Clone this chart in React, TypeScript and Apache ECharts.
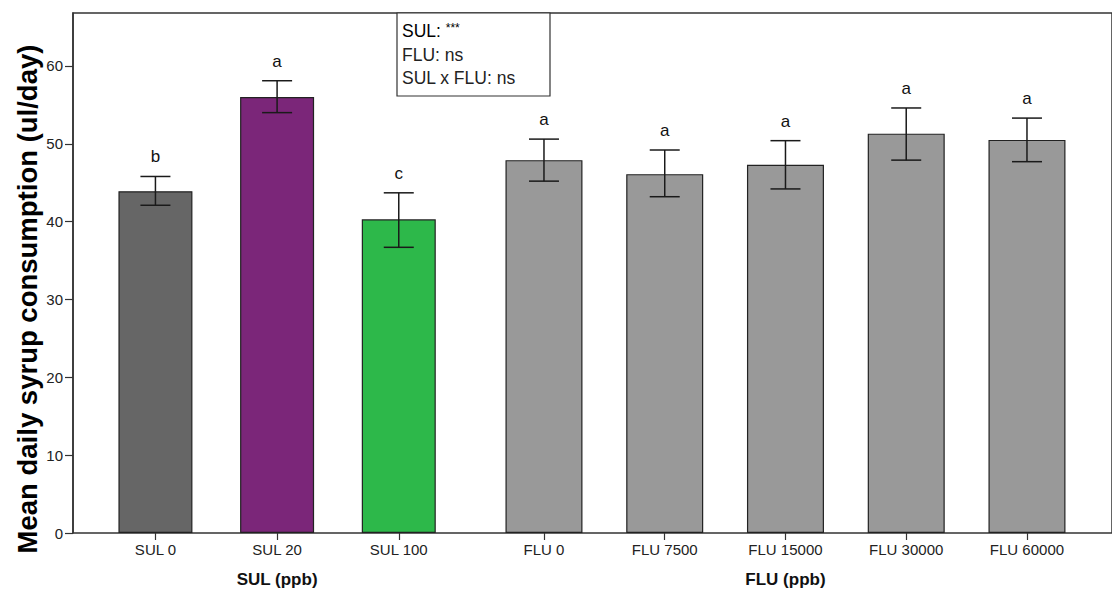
import React, { useEffect, useRef } from "react";
import * as echarts from "echarts";

const sulCategories = ["SUL 0", "SUL 20", "SUL 100"];
const sulMeans = [43.9, 56.0, 40.3];
const sulLow = [42.1, 54.0, 36.7];
const sulHigh = [45.8, 58.1, 43.7];
const sulLetters = ["b", "a", "c"];
const sulColors = ["#666666", "#7b2679", "#2db84a"];

const fluCategories = ["FLU 0", "FLU 7500", "FLU 15000", "FLU 30000", "FLU 60000"];
const fluMeans = [47.9, 46.1, 47.3, 51.3, 50.5];
const fluLow = [45.2, 43.2, 44.2, 47.9, 47.7];
const fluHigh = [50.6, 49.2, 50.4, 54.6, 53.3];
const fluLetters = ["a", "a", "a", "a", "a"];
const fluColor = "#999999";

const yTicks = [0, 10, 20, 30, 40, 50, 60];
const yMax = 66.8;

const statsLines = ["SUL: ", "FLU: ns", "SUL x FLU: ns"];

const FONT = "'Liberation Sans', Arial, sans-serif";

function errorSeries(axisIdx: number, low: number[], high: number[], letters: string[]) {
  return {
    type: "custom",
    xAxisIndex: axisIdx,
    yAxisIndex: axisIdx,
    z: 5,
    data: low.map((l, i) => [i, l, high[i], letters[i]]),
    renderItem: (params: any, api: any) => {
      const i = api.value(0);
      const lo = api.coord([i, api.value(1)]);
      const hi = api.coord([i, api.value(2)]);
      const hw = 15;
      const st = { stroke: "#1a1a1a", lineWidth: 1.5 };
      return {
        type: "group",
        children: [
          { type: "line", shape: { x1: lo[0], y1: lo[1], x2: hi[0], y2: hi[1] }, style: st },
          { type: "line", shape: { x1: lo[0] - hw, y1: lo[1], x2: lo[0] + hw, y2: lo[1] }, style: st },
          { type: "line", shape: { x1: hi[0] - hw, y1: hi[1], x2: hi[0] + hw, y2: hi[1] }, style: st },
          {
            type: "text",
            x: hi[0],
            y: hi[1] - 11,
            style: {
              text: letters[i],
              fill: "#111",
              font: `17px ${FONT}`,
              align: "center",
              verticalAlign: "bottom",
              textAlign: "center",
              textVerticalAlign: "bottom",
            },
          },
        ],
      };
    },
  };
}

export default function App() {
  const ref = useRef<HTMLDivElement>(null);
  useEffect(() => {
    if (!ref.current) return;
    const chart = echarts.init(ref.current, null, { renderer: "svg" });
    const top = 13;
    const bottom = 61;
    const catAxis = (data: string[], name: string, grid: number) => ({
      type: "category",
      gridIndex: grid,
      data,
      axisLine: { show: false },
      axisTick: { show: true, alignWithLabel: true, length: 7, lineStyle: { color: "#333", width: 1.2 } },
      axisLabel: { fontSize: 15, color: "#222", margin: 9, fontFamily: FONT },
      name,
      nameLocation: "middle",
      nameGap: 38,
      nameTextStyle: { fontSize: 17, fontWeight: "bold", color: "#111", fontFamily: FONT },
    });
    const hiddenY = (grid: number) => ({
      type: "value",
      gridIndex: grid,
      min: 0,
      max: yMax,
      show: false,
    });
    chart.setOption({
      animation: false,
      backgroundColor: "#ffffff",
      grid: [
        { left: 73, right: -10, top, bottom, show: true, borderColor: "#333", borderWidth: 1.5, backgroundColor: "#fff" },
        { left: 94.6, width: 365, top, bottom },
        { left: 483.6, width: 603.75, top, bottom },
      ],
      xAxis: [
        { type: "value", gridIndex: 0, min: 0, max: 1, show: false },
        catAxis(sulCategories, "SUL (ppb)", 1),
        catAxis(fluCategories, "FLU (ppb)", 2),
      ],
      yAxis: [
        {
          type: "value",
          gridIndex: 0,
          min: 0,
          max: yMax,
          interval: 10,
          axisLine: { show: true, lineStyle: { color: "#333", width: 1.5 } },
          axisTick: { show: true, length: 8, customValues: yTicks, lineStyle: { color: "#333", width: 1.2 } },
          axisLabel: { fontSize: 15, color: "#222", margin: 10, fontFamily: FONT, customValues: yTicks },
          splitLine: { show: false },
        },
        hiddenY(1),
        hiddenY(2),
      ],
      series: [
        {
          type: "bar",
          xAxisIndex: 1,
          yAxisIndex: 1,
          barWidth: 74,
          data: sulMeans.map((v, i) => ({ value: v, itemStyle: { color: sulColors[i] } })),
          itemStyle: { borderColor: "#222", borderWidth: 1.2 },
        },
        {
          type: "bar",
          xAxisIndex: 2,
          yAxisIndex: 2,
          barWidth: 77,
          data: fluMeans,
          itemStyle: { color: fluColor, borderColor: "#222", borderWidth: 1.2 },
        },
        errorSeries(1, sulLow, sulHigh, sulLetters),
        errorSeries(2, fluLow, fluHigh, fluLetters),
      ],
      graphic: [
        {
          type: "text",
          x: 27,
          y: 299,
          rotation: Math.PI / 2,
          style: {
            text: "Mean daily syrup consumption (ul/day)",
            font: `bold 27.5px ${FONT}`,
            fill: "#000",
            align: "center",
            verticalAlign: "middle",
            textAlign: "center",
            textVerticalAlign: "middle",
          },
        },
        {
          type: "rect",
          shape: { x: 397, y: 13, width: 153, height: 83 },
          style: { fill: "#fff", stroke: "#333", lineWidth: 1.2 },
          z: 10,
        },
        {
          type: "text",
          x: 402,
          y: 31,
          z: 11,
          style: {
            text: "{a|" + statsLines[0] + "}{s|***}",
            rich: {
              a: { fontSize: 17.5, fontFamily: FONT, color: "#222" },
              s: { fontSize: 12, fontFamily: FONT, color: "#222", verticalAlign: "top", padding: [0, 0, 7, 0] },
            },
            verticalAlign: "middle",
            textVerticalAlign: "middle",
          },
        },
        {
          type: "text",
          x: 402,
          y: 55,
          z: 11,
          style: { text: statsLines[1], font: `17.5px ${FONT}`, fill: "#222", verticalAlign: "middle", textVerticalAlign: "middle" },
        },
        {
          type: "text",
          x: 402,
          y: 78,
          z: 11,
          style: { text: statsLines[2], font: `17.5px ${FONT}`, fill: "#222", verticalAlign: "middle", textVerticalAlign: "middle" },
        },
      ],
    });
    return () => chart.dispose();
  }, []);
  return <div ref={ref} style={{ position: "fixed", left: 0, top: 0, width: 1112, height: 594 }} />;
}
